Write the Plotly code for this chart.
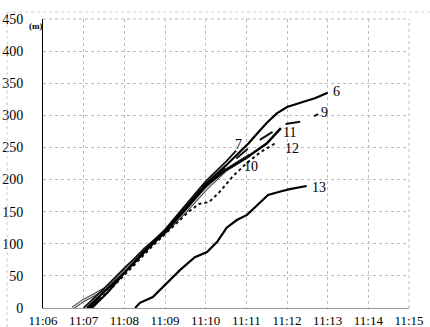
import plotly.graph_objects as go

D = "2000-01-01 "

s6_t = ["11:07:12","11:07:36","11:08:00","11:08:30","11:09:00","11:09:30","11:10:00","11:10:30","11:10:48","11:11:03","11:11:18","11:11:30","11:11:45","11:12:00","11:12:21","11:12:42","11:13:00"]
s6_y = [0,25,55,88,120,156,193,222,240,256,274,288,303,313,320,327,335]

s7_t = ["11:07:00","11:07:30","11:08:00","11:08:30","11:09:00","11:09:30","11:10:00","11:10:30","11:10:45"]
s7_y = [0,30,62,92,122,160,197,228,245]

s9_t = ["11:07:08","11:07:40","11:08:10","11:08:40","11:09:10","11:09:40","11:10:10","11:10:40","11:11:10","11:11:40","11:12:00","11:12:20","11:12:35","11:12:46"]
s9_y = [0,32,65,98,132,168,200,228,255,275,287,290,296,302]

s10_t = ["11:06:44","11:07:00","11:07:15","11:07:35","11:08:00","11:08:30","11:09:00","11:09:30","11:10:00","11:10:30","11:11:05"]
s10_y = [0,12,20,32,58,92,118,150,185,215,238]

s11_t = ["11:07:05","11:07:30","11:08:00","11:08:30","11:09:00","11:09:30","11:10:00","11:10:30","11:11:00","11:11:30","11:11:51"]
s11_y = [0,25,55,88,118,153,190,215,234,256,280]

s12_t = ["11:07:10","11:07:40","11:08:10","11:08:40","11:09:10","11:09:35","11:09:50","11:10:05","11:10:20","11:10:40","11:11:00","11:11:20","11:11:45"]
s12_y = [0,30,62,95,125,150,162,165,180,205,225,242,258]

s13_t = ["11:08:16","11:08:23","11:08:42","11:09:03","11:09:22","11:09:44","11:10:02","11:10:17","11:10:31","11:10:46","11:11:01","11:11:16","11:11:32","11:11:49","11:12:04","11:12:29"]
s13_y = [0,8,17,39,59,79,87,103,125,137,145,160,176,181,185,190]

label_text = ["6","9","11","12","10","7","13"]
label_t = ["11:13:05","11:12:47","11:11:51","11:11:54","11:10:53","11:10:40","11:12:34"]
label_y = [337,305,273,249,220,254,188]

x_ticks = ["11:06","11:07","11:08","11:09","11:10","11:11","11:12","11:13","11:14","11:15"]
y_ticks = [0,50,100,150,200,250,300,350,400,450]

def tx(lst):
    return [D + s for s in lst]

fig = go.Figure()
fig.add_trace(go.Scatter(x=tx(s10_t), y=s10_y, mode="lines", line=dict(color="#222", width=3.2), showlegend=False))
fig.add_trace(go.Scatter(x=tx(s10_t), y=s10_y, mode="lines", line=dict(color="#c8c8c8", width=1.6), showlegend=False))
fig.add_trace(go.Scatter(x=tx(s7_t), y=s7_y, mode="lines", line=dict(color="#111", width=1.8), showlegend=False))
fig.add_trace(go.Scatter(x=tx(s9_t), y=s9_y, mode="lines", line=dict(color="#111", width=2, dash="longdash"), showlegend=False))
fig.add_trace(go.Scatter(x=tx(s12_t), y=s12_y, mode="lines", line=dict(color="#111", width=2, dash="dot"), showlegend=False))
fig.add_trace(go.Scatter(x=tx(s11_t), y=s11_y, mode="lines", line=dict(color="#000", width=2.4), showlegend=False))
fig.add_trace(go.Scatter(x=tx(s6_t), y=s6_y, mode="lines", line=dict(color="#000", width=2.2), showlegend=False))
fig.add_trace(go.Scatter(x=tx(s13_t), y=s13_y, mode="lines", line=dict(color="#000", width=2.2), showlegend=False))

for txt, t, y in zip(label_text, label_t, label_y):
    fig.add_annotation(x=D + t, y=y, text=txt, showarrow=False, xanchor="left", yanchor="middle",
                       font=dict(family="Liberation Serif", size=14, color="#000"))

fig.add_annotation(xref="paper", yref="paper", x=-0.045, y=0.975, text="<b>(m)</b>", showarrow=False,
                   xanchor="left", yanchor="middle", font=dict(family="Liberation Serif", size=9, color="#000"))

fig.add_shape(type="line", xref="paper", yref="paper", x0=-0.098, x1=1.06, y0=1.024, y1=1.024,
              line=dict(color="#ccc", width=1, dash="dot"))
fig.add_shape(type="line", xref="paper", yref="paper", x0=-0.098, x1=-0.098, y0=1.024, y1=-0.066,
              line=dict(color="#ccc", width=1, dash="dot"))
fig.add_shape(type="line", xref="paper", yref="paper", x0=1, x1=1, y0=0, y1=1, line=dict(color="#bbb", width=1, dash="dot"))
fig.add_shape(type="line", xref="paper", yref="paper", x0=0, x1=1, y0=1, y1=1, line=dict(color="#bbb", width=1, dash="dot"))

fig.update_layout(
    width=430, height=327,
    margin=dict(l=43, r=21, t=19, b=19, autoexpand=False),
    paper_bgcolor="white", plot_bgcolor="white",
    font=dict(family="Liberation Serif", size=14, color="#000"),
    xaxis=dict(type="date", range=[D + "11:06", D + "11:15"],
               tickvals=[D + s for s in x_ticks], ticktext=x_ticks,
               tickfont=dict(family="Liberation Serif", size=13),
               showgrid=True, gridcolor="#bbb", griddash="dot", gridwidth=1,
               showline=True, linecolor="#999", linewidth=1, zeroline=False,
               ticks="", ticklabelstandoff=0, automargin=False),
    yaxis=dict(range=[0, 450], tickvals=y_ticks,
               showgrid=True, gridcolor="#bbb", griddash="dot", gridwidth=1,
               showline=True, linecolor="#000", linewidth=1, zeroline=False,
               ticks="", ticklabelstandoff=16, automargin=False),
)

fig.write_html("out.html")
